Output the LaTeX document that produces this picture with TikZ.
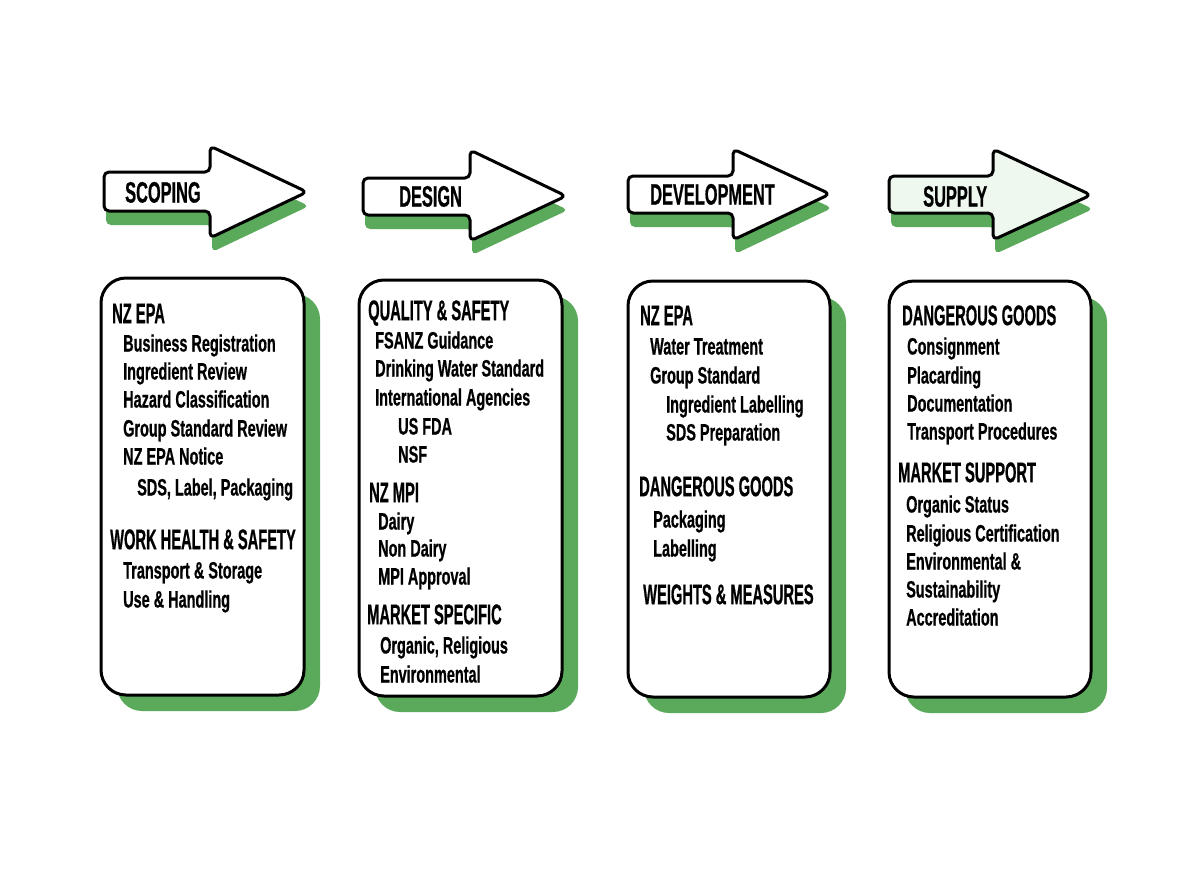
\documentclass[tikz,border=0pt]{standalone}
\usepackage{fontspec}
\newfontfamily\itemfont{Liberation Sans Bold}[FakeStretch=0.61,FakeBold=0.6]
\newfontfamily\headfont{Liberation Sans Bold}[FakeStretch=0.515,FakeBold=0.6]
\newfontfamily\arrfont{Liberation Sans Bold}[FakeStretch=0.555,FakeBold=0.6]
\definecolor{shgreen}{HTML}{5BAA5B}
\definecolor{palegreen}{HTML}{EEF8EE}
\tikzset{
  itm/.style={anchor=west,inner sep=0pt,text height=17pt,text depth=0pt,font=\itemfont\fontsize{23.7}{24}\selectfont},
  hdg/.style={anchor=west,inner sep=0pt,text height=20.4pt,text depth=0pt,font=\headfont\fontsize{28.5}{29}\selectfont},
  arrlbl/.style={anchor=west,inner sep=0pt,text height=21.1pt,text depth=0pt,font=\arrfont\fontsize{29.5}{30}\selectfont},
  panel/.style={draw=black,line width=3pt,fill=white,rounded corners=25pt},
  panelshadow/.style={fill=shgreen,rounded corners=25pt},
  arrowbody/.style={draw=black,line width=3pt,line join=round,rounded corners=5pt},
  arrowshadow/.style={fill=shgreen,rounded corners=5pt}
}
% #1 left x, #2 body top, #3 body bottom, #4 head x, #5 head top, #6 head bottom, #7 tip x, #8 tip y
\newcommand\arrowpath[8]{(#1,#2) -- (#4,#2) -- (#4,#5) -- (#7,#8) -- (#4,#6) -- (#4,#3) -- (#1,#3) -- cycle}
\begin{document}
\begin{tikzpicture}[x=1pt,y=-1pt]
\useasboundingbox (0,0) rectangle (1183,887);
% ---------- arrows ----------
\begin{scope}[shift={(2,14)}]
\fill[arrowshadow] \arrowpath{104}{172}{211}{210}{146}{238}{307}{192};
\fill[arrowshadow] \arrowpath{363}{178}{215}{470}{150}{241}{566}{196};
\fill[arrowshadow] \arrowpath{628}{176}{213}{733}{149}{240}{830}{194};
\fill[arrowshadow] \arrowpath{889}{176}{213}{993}{149}{240}{1091}{195};
\end{scope}
\draw[arrowbody,fill=white] \arrowpath{104}{172}{211}{210}{146}{238}{307}{192};
\draw[arrowbody,fill=white] \arrowpath{363}{178}{215}{470}{150}{241}{566}{196};
\draw[arrowbody,fill=white] \arrowpath{628}{176}{213}{733}{149}{240}{830}{194};
\draw[arrowbody,fill=palegreen] \arrowpath{889}{176}{213}{993}{149}{240}{1091}{195};
\node[arrlbl] (a1) at (125,192) {SCOPING};
\node[arrlbl] (a2) at (399,196) {DESIGN};
\node[arrlbl] (a3) at (650,194) {DEVELOPMENT};
\node[arrlbl] (a4) at (923,196) {SUPPLY};
% ---------- panels ----------
\fill[panelshadow] (117,294) rectangle (320,711);
\fill[panelshadow] (375,296) rectangle (578,712);
\fill[panelshadow] (644,297) rectangle (846,713);
\fill[panelshadow] (905,297) rectangle (1107,713);
\draw[panel] (101,278) rectangle (304,695);
\draw[panel] (359,280) rectangle (562,696);
\draw[panel] (628,281) rectangle (830,697);
\draw[panel] (889,281) rectangle (1091,697);
% ---------- panel 1 ----------
\node[hdg] (p1h1) at (112,313) {NZ EPA};
\node[itm] (p1i1) at (123,343) {Business Registration};
\node[itm] (p1i2) at (123,371) {Ingredient Review};
\node[itm] (p1i3) at (123,399) {Hazard Classification};
\node[itm] (p1i4) at (123,428) {Group Standard Review};
\node[itm] (p1i5) at (123,456) {NZ EPA Notice};
\node[itm] (p1i6) at (137,487) {SDS, Label, Packaging};
\node[hdg] (p1h2) at (110,539) {WORK HEALTH \& SAFETY};
\node[itm] (p1i7) at (123,570) {Transport \& Storage};
\node[itm] (p1i8) at (123,599) {Use \& Handling};
% ---------- panel 2 ----------
\node[hdg] (p2h1) at (368,310) {QUALITY \& SAFETY};
\node[itm] (p2i1) at (375,340) {FSANZ Guidance};
\node[itm] (p2i2) at (375,368) {Drinking Water Standard};
\node[itm] (p2i3) at (375,397) {International Agencies};
\node[itm] (p2i4) at (398,426) {US FDA};
\node[itm] (p2i5) at (398,454) {NSF};
\node[hdg] (p2h2) at (369,492) {NZ MPI};
\node[itm] (p2i6) at (378,521) {Dairy};
\node[itm] (p2i7) at (378,548) {Non Dairy};
\node[itm] (p2i8) at (378,576) {MPI Approval};
\node[hdg] (p2h3) at (367,614) {MARKET SPECIFIC};
\node[itm] (p2i9) at (380,645) {Organic, Religious};
\node[itm] (p2i10) at (380,674) {Environmental};
% ---------- panel 3 ----------
\node[hdg] (p3h1) at (640,315) {NZ EPA};
\node[itm] (p3i1) at (650,346) {Water Treatment};
\node[itm] (p3i2) at (650,375) {Group Standard};
\node[itm] (p3i3) at (666,404) {Ingredient Labelling};
\node[itm] (p3i4) at (666,432) {SDS Preparation};
\node[hdg] (p3h2) at (639,486) {DANGEROUS GOODS};
\node[itm] (p3i5) at (653,519) {Packaging};
\node[itm] (p3i6) at (653,548) {Labelling};
\node[hdg] (p3h3) at (643,594) {WEIGHTS \& MEASURES};
% ---------- panel 4 ----------
\node[hdg] (p4h1) at (902,315) {DANGEROUS GOODS};
\node[itm] (p4i1) at (907,346) {Consignment};
\node[itm] (p4i2) at (907,375) {Placarding};
\node[itm] (p4i3) at (907,403) {Documentation};
\node[itm] (p4i4) at (907,431) {Transport Procedures};
\node[hdg] (p4h2) at (898,472) {MARKET SUPPORT};
\node[itm] (p4i5) at (906,504) {Organic Status};
\node[itm] (p4i6) at (906,533) {Religious Certification};
\node[itm] (p4i7) at (906,561) {Environmental \&};
\node[itm] (p4i8) at (906,589) {Sustainability};
\node[itm] (p4i9) at (906,617) {Accreditation};
\end{tikzpicture}
\end{document}
